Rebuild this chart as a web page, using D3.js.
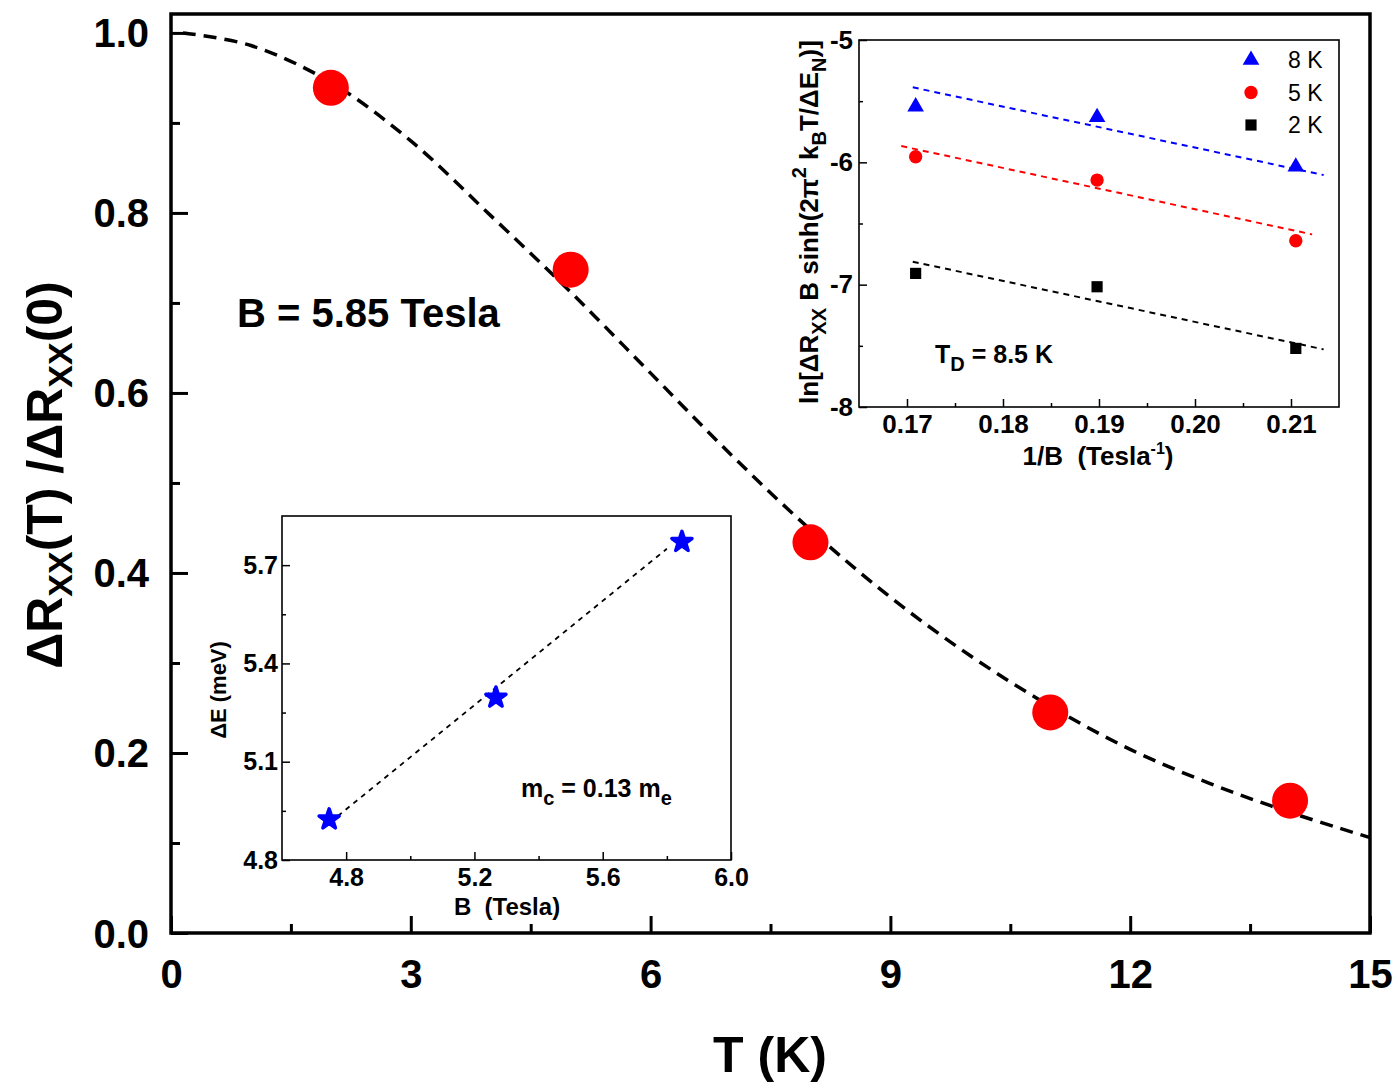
<!DOCTYPE html>
<html>
<head>
<meta charset="utf-8">
<script src="https://cdn.jsdelivr.net/npm/d3@7"></script>
<style>
body{margin:0;background:#fff;}
svg text{font-family:"Liberation Sans",Arial,Helvetica,sans-serif;}
</style>
</head>
<body>
<svg id="chart" width="1400" height="1088"></svg>
<script>
// main plot data
var temps = [2, 5, 8, 11, 14];
var ratio = [0.939, 0.737, 0.434, 0.245, 0.147];
var fitT = [0.15, 1, 2, 3, 4, 5, 6, 7, 8, 9, 10, 11, 12, 13, 14, 15];
var fitRatio = [1.0, 0.986, 0.945, 0.880, 0.797, 0.712, 0.622, 0.532, 0.448, 0.373, 0.308, 0.252, 0.204, 0.166, 0.134, 0.106];
var mainXTicks = [0, 3, 6, 9, 12, 15];
var mainXMinor = [1.5, 4.5, 7.5, 10.5, 13.5];
var mainYTicks = [0, 0.2, 0.4, 0.6, 0.8, 1.0];
var mainYMinor = [0.1, 0.3, 0.5, 0.7, 0.9];

// inset: Dingle plot
var invB = [0.1709, 0.1898, 0.2105];
var ln8K = [-5.545, -5.632, -6.036];
var ln5K = [-5.954, -6.145, -6.641];
var ln2K = [-6.908, -7.017, -7.521];
var fitInvB = [0.1706, 0.2134];
var fit8K = [-5.387, -6.104];
var fit5KInvB = [0.1694, 0.2122];
var fit5K = [-5.867, -6.589];
var fit2K = [-6.812, -7.529];
var dXTicks = [0.17, 0.18, 0.19, 0.20, 0.21];
var dXMinor = [0.175, 0.185, 0.195, 0.205];
var dYTicks = [-8, -7, -6, -5];
var dYMinor = [-7.5, -6.5, -5.5];

// inset: gap vs field
var fieldB = [4.747, 5.267, 5.847];
var gapE = [4.924, 5.296, 5.771];
var gapFitB = [4.75, 5.80];
var gapFitE = [4.915, 5.75];
var gXTicks = [4.8, 5.2, 5.6, 6.0];
var gXMinor = [5.0, 5.4, 5.8];
var gYTicks = [4.8, 5.1, 5.4, 5.7];
var gYMinor = [4.95, 5.25, 5.55];

var svg = d3.select("#chart");

function styleAxis(g, w, fs) {
  g.select(".domain").remove();
  g.selectAll(".tick line").attr("stroke", "#000").attr("stroke-width", w);
  g.selectAll(".tick text").attr("fill", "#000").attr("font-weight", "bold").attr("font-size", fs);
}

// ---------- main ----------
var x = d3.scaleLinear().domain([0, 15]).range([171, 1370]);
var y = d3.scaleLinear().domain([0, 1.021]).range([933, 14]);

var mg = svg.append("g");
mg.append("g").attr("transform", "translate(171,0)")
  .call(d3.axisLeft(y).tickValues(mainYTicks).tickFormat(d3.format(".1f")).tickSize(-17).tickPadding(22))
  .call(styleAxis, 3, 40);
mg.append("g").attr("transform", "translate(171,0)")
  .call(d3.axisLeft(y).tickValues(mainYMinor).tickFormat("").tickSize(-9))
  .call(styleAxis, 3, 40);
mg.append("g").attr("transform", "translate(0,933)")
  .call(d3.axisBottom(x).tickValues(mainXTicks).tickFormat(d3.format("d")).tickSize(-17).tickPadding(26))
  .call(styleAxis, 3, 40);
mg.append("g").attr("transform", "translate(0,933)")
  .call(d3.axisBottom(x).tickValues(mainXMinor).tickFormat("").tickSize(-9))
  .call(styleAxis, 3, 40);
mg.selectAll(".tick text").attr("dy", null).attr("dominant-baseline", "central");
mg.selectAll("g[transform='translate(0,933)'] .tick text").attr("dominant-baseline", "hanging");

mg.append("rect").attr("x", x(0)).attr("y", y(1.021))
  .attr("width", x(15) - x(0)).attr("height", y(0) - y(1.021))
  .attr("fill", "none").attr("stroke", "#000").attr("stroke-width", 3.5);

var fitLine = d3.line().x(function(d){return x(d[0]);}).y(function(d){return y(d[1]);}).curve(d3.curveCatmullRom);
mg.append("path").datum(fitT.map(function(t,i){return [t, fitRatio[i]];}))
  .attr("d", fitLine).attr("fill", "none").attr("stroke", "#000")
  .attr("stroke-width", 3.5).attr("stroke-dasharray", "13,8");

mg.selectAll("circle.pt").data(temps).enter().append("circle")
  .attr("class", "pt")
  .attr("cx", function(d){return x(d);})
  .attr("cy", function(d,i){return y(ratio[i]);})
  .attr("r", 18).attr("fill", "#ff0000");

mg.append("text").attr("x", 237).attr("y", 327)
  .attr("font-size", 40).attr("font-weight", "bold").text("B = 5.85 Tesla");

mg.append("text").attr("x", 770).attr("y", 1072).attr("text-anchor", "middle")
  .attr("font-size", 50).attr("font-weight", "bold").text("T (K)");

var yt = mg.append("text").attr("transform", "translate(62,475) rotate(-90)")
  .attr("text-anchor", "middle").attr("font-size", 50).attr("font-weight", "bold");
yt.append("tspan").text("ΔR");
yt.append("tspan").attr("font-size", 34).attr("dy", 10).text("XX");
yt.append("tspan").attr("dy", -10).text("(T) /ΔR");
yt.append("tspan").attr("font-size", 34).attr("dy", 10).text("XX");
yt.append("tspan").attr("dy", -10).text("(0)");

// ---------- inset: Dingle ----------
var dx = d3.scaleLinear().domain([0.165, 0.215]).range([859, 1339]);
var dy = d3.scaleLinear().domain([-8, -5]).range([407, 40]);
var dg = svg.append("g");
dg.append("rect").attr("x", 859).attr("y", 40).attr("width", 480).attr("height", 367)
  .attr("fill", "#fff").attr("stroke", "#000").attr("stroke-width", 1.6);
dg.append("g").attr("transform", "translate(859,0)")
  .call(d3.axisLeft(dy).tickValues(dYTicks).tickFormat(function(d){return String(d);}).tickSize(-8).tickPadding(6))
  .call(styleAxis, 1.5, 26);
dg.append("g").attr("transform", "translate(859,0)")
  .call(d3.axisLeft(dy).tickValues(dYMinor).tickFormat("").tickSize(-4))
  .call(styleAxis, 1.5, 26);
dg.append("g").attr("transform", "translate(0,407)")
  .call(d3.axisBottom(dx).tickValues(dXTicks).tickFormat(d3.format(".2f")).tickSize(-8).tickPadding(8))
  .call(styleAxis, 1.5, 26);
dg.append("g").attr("transform", "translate(0,407)")
  .call(d3.axisBottom(dx).tickValues(dXMinor).tickFormat("").tickSize(-4))
  .call(styleAxis, 1.5, 26);

var dline = d3.line().x(function(d){return dx(d[0]);}).y(function(d){return dy(d[1]);});
var fits = [
  {xs: fitInvB, ys: fit8K, c: "#0000ff"},
  {xs: fit5KInvB, ys: fit5K, c: "#ff0000"},
  {xs: fitInvB, ys: fit2K, c: "#000"}
];
fits.forEach(function(f){
  dg.append("path").datum(f.xs.map(function(v,i){return [v, f.ys[i]];}))
    .attr("d", dline).attr("fill", "none").attr("stroke", f.c)
    .attr("stroke-width", 2).attr("stroke-dasharray", "6,5");
});

var series = [
  {name: "8 K", vals: ln8K, c: "#0000ff", sym: d3.symbolTriangle, size: 120},
  {name: "5 K", vals: ln5K, c: "#ff0000", sym: d3.symbolCircle, size: 140},
  {name: "2 K", vals: ln2K, c: "#000", sym: d3.symbolSquare, size: 125}
];
series.forEach(function(s, k){
  dg.selectAll(null).data(s.vals).enter().append("path")
    .attr("d", d3.symbol().type(s.sym).size(s.size))
    .attr("transform", function(d,i){return "translate(" + dx(invB[i]) + "," + dy(d) + ")";})
    .attr("fill", s.c);
  var ly = 60 + k * 32.5;
  dg.append("path").attr("d", d3.symbol().type(s.sym).size(s.size))
    .attr("transform", "translate(1251," + ly + ")").attr("fill", s.c);
  dg.append("text").attr("x", 1288).attr("y", ly).attr("dominant-baseline", "central")
    .attr("font-size", 23).text(s.name);
});

var td = dg.append("text").attr("x", 935).attr("y", 363).attr("font-size", 25).attr("font-weight", "bold");
td.append("tspan").text("T");
td.append("tspan").attr("font-size", 20).attr("dy", 8).text("D");
td.append("tspan").attr("dy", -8).text(" = 8.5 K");

var dxl = dg.append("text").attr("x", 1098).attr("y", 465).attr("text-anchor", "middle")
  .attr("font-size", 26).attr("font-weight", "bold");
dxl.append("tspan").text("1/B\u00a0 (Tesla");
dxl.append("tspan").attr("font-size", 16).attr("dy", -11).text("-1");
dxl.append("tspan").attr("dy", 11).text(")");

var dyl = dg.append("text").attr("transform", "translate(818,222) rotate(-90)")
  .attr("text-anchor", "middle").attr("font-size", 26).attr("font-weight", "bold");
dyl.append("tspan").text("ln[ΔR");
dyl.append("tspan").attr("font-size", 20).attr("dy", 8).text("XX");
dyl.append("tspan").attr("dy", -8).text(" B sinh(2π");
dyl.append("tspan").attr("font-size", 20).attr("dy", -12).text("2");
dyl.append("tspan").attr("dy", 12).text(" k");
dyl.append("tspan").attr("font-size", 20).attr("dy", 8).text("B");
dyl.append("tspan").attr("dy", -8).text("T/ΔE");
dyl.append("tspan").attr("font-size", 20).attr("dy", 8).text("N");
dyl.append("tspan").attr("dy", -8).text(")]");

// ---------- inset: gap ----------
var gx = d3.scaleLinear().domain([4.6, 6.0]).range([282, 731]);
var gy = d3.scaleLinear().domain([4.8, 5.85]).range([860, 516]);
var gg = svg.append("g");
gg.append("rect").attr("x", 282).attr("y", 516).attr("width", 449).attr("height", 344)
  .attr("fill", "#fff").attr("stroke", "#000").attr("stroke-width", 1.6);
gg.append("g").attr("transform", "translate(282,0)")
  .call(d3.axisLeft(gy).tickValues(gYTicks).tickFormat(d3.format(".1f")).tickSize(-8).tickPadding(4))
  .call(styleAxis, 1.5, 25);
gg.append("g").attr("transform", "translate(282,0)")
  .call(d3.axisLeft(gy).tickValues(gYMinor).tickFormat("").tickSize(-4))
  .call(styleAxis, 1.5, 25);
gg.append("g").attr("transform", "translate(0,860)")
  .call(d3.axisBottom(gx).tickValues(gXTicks).tickFormat(d3.format(".1f")).tickSize(-8).tickPadding(8))
  .call(styleAxis, 1.5, 25);
gg.append("g").attr("transform", "translate(0,860)")
  .call(d3.axisBottom(gx).tickValues(gXMinor).tickFormat("").tickSize(-4))
  .call(styleAxis, 1.5, 25);

var gline = d3.line().x(function(d){return gx(d[0]);}).y(function(d){return gy(d[1]);});
gg.append("path").datum(gapFitB.map(function(v,i){return [v, gapFitE[i]];}))
  .attr("d", gline).attr("fill", "none").attr("stroke", "#000")
  .attr("stroke-width", 1.8).attr("stroke-dasharray", "5,5");
gg.selectAll("path.star").data(fieldB).enter().append("path")
  .attr("class", "star")
  .attr("d", d3.symbol().type(d3.symbolStar).size(125))
  .attr("transform", function(d,i){return "translate(" + gx(d) + "," + gy(gapE[i]) + ")";})
  .attr("fill", "#0000ff").attr("stroke", "#0000ff").attr("stroke-width", 3.5).attr("stroke-linejoin", "round");

var mc = gg.append("text").attr("x", 521).attr("y", 797).attr("font-size", 25).attr("font-weight", "bold");
mc.append("tspan").text("m");
mc.append("tspan").attr("font-size", 20).attr("dy", 8).text("c");
mc.append("tspan").attr("dy", -8).text(" = 0.13 m");
mc.append("tspan").attr("font-size", 20).attr("dy", 8).text("e");

gg.append("text").attr("x", 507).attr("y", 915).attr("text-anchor", "middle")
  .attr("font-size", 24).attr("font-weight", "bold").text("B\u00a0 (Tesla)");
gg.append("text").attr("transform", "translate(226,690) rotate(-90)").attr("text-anchor", "middle")
  .attr("font-size", 22).attr("font-weight", "bold").text("ΔE (meV)");
</script>
</body>
</html>
